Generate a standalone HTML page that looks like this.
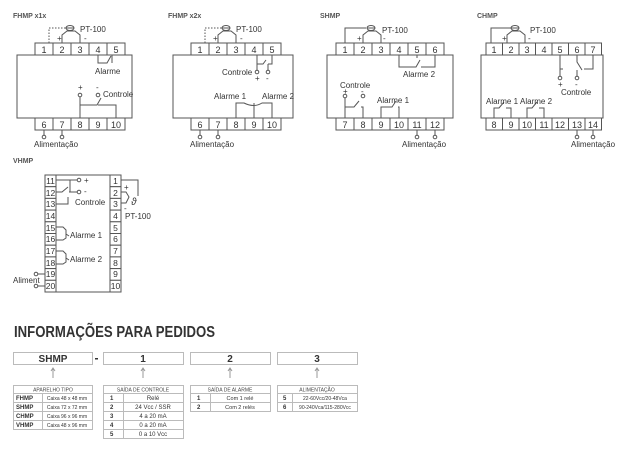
<!DOCTYPE html>
<html><head><meta charset="utf-8"><style>
html,body{margin:0;padding:0;background:#fff;width:640px;height:456px;overflow:hidden}
svg{display:block}
text{font-family:"Liberation Sans",sans-serif;fill:#333}
.s{fill:none;stroke:#555;stroke-width:1}
.c{fill:#fff;stroke:#555;stroke-width:1}
.t{font-size:8px}
.n{font-size:9px;text-anchor:middle}
.h{font-size:7px;font-weight:bold;fill:#555}
.b{fill:#fff;stroke:#bbb;stroke-width:1}
.tb{font-size:5px;text-anchor:middle;fill:#444}
.tk{font-size:6px;font-weight:bold;fill:#333}
</style></head><body>
<svg width="640" height="456" viewBox="0 0 640 456" xmlns="http://www.w3.org/2000/svg">
<!-- ===== FHMP x1x ===== -->
<text x="13" y="18" class="h">FHMP x1x</text>
<rect x="17" y="55" width="115" height="63" class="s"/>
<g class="c"><rect x="35" y="43" width="18" height="12"/><rect x="53" y="43" width="18" height="12"/><rect x="71" y="43" width="18" height="12"/><rect x="89" y="43" width="18" height="12"/><rect x="107" y="43" width="18" height="12"/>
<rect x="35" y="118" width="18" height="12"/><rect x="53" y="118" width="18" height="12"/><rect x="71" y="118" width="18" height="12"/><rect x="89" y="118" width="18" height="12"/><rect x="107" y="118" width="18" height="12"/></g>
<g class="n"><text x="44" y="53">1</text><text x="62" y="53">2</text><text x="80" y="53">3</text><text x="98" y="53">4</text><text x="116" y="53">5</text>
<text x="44" y="128">6</text><text x="62" y="128">7</text><text x="80" y="128">8</text><text x="98" y="128">9</text><text x="116" y="128">10</text></g>
<path d="M49 43V28H66" class="s" stroke-dasharray="1.5 1.5"/>
<path d="M62 43V35L67 31H75L80 35V43M66 28H74" class="s"/>
<ellipse cx="70" cy="28" rx="4" ry="2.5" class="s"/>
<text x="80" y="32" class="t">PT-100</text><text x="57" y="41" class="t">+</text><text x="84" y="41" class="t">-</text>
<path d="M98 55V63H107L111 56M112 63V55" class="s"/>
<text x="95" y="74" class="t">Alarme</text>
<path d="M80 118V105H97L101 98M98 105H116V118M80 97V105M98 97" class="s"/>
<circle cx="80" cy="95" r="1.8" class="c"/><circle cx="98" cy="95" r="1.8" class="c"/>
<text x="78" y="90" class="t">+</text><text x="96" y="90" class="t">-</text><text x="103" y="97" class="t">Controle</text>
<path d="M44 130V135M62 130V135" class="s"/><circle cx="44" cy="137" r="1.8" class="c"/><circle cx="62" cy="137" r="1.8" class="c"/>
<text x="34" y="147" class="t">Alimentação</text>

<!-- ===== FHMP x2x ===== -->
<text x="168" y="18" class="h">FHMP x2x</text>
<rect x="173" y="55" width="120" height="63" class="s"/>
<g class="c"><rect x="191" y="43" width="18" height="12"/><rect x="209" y="43" width="18" height="12"/><rect x="227" y="43" width="18" height="12"/><rect x="245" y="43" width="18" height="12"/><rect x="263" y="43" width="18" height="12"/>
<rect x="191" y="118" width="18" height="12"/><rect x="209" y="118" width="18" height="12"/><rect x="227" y="118" width="18" height="12"/><rect x="245" y="118" width="18" height="12"/><rect x="263" y="118" width="18" height="12"/></g>
<g class="n"><text x="200" y="53">1</text><text x="218" y="53">2</text><text x="236" y="53">3</text><text x="254" y="53">4</text><text x="272" y="53">5</text>
<text x="200" y="128">6</text><text x="218" y="128">7</text><text x="236" y="128">8</text><text x="254" y="128">9</text><text x="272" y="128">10</text></g>
<path d="M205 43V28H222" class="s" stroke-dasharray="1.5 1.5"/>
<path d="M218 43V35L223 31H231L236 35V43M222 28H230" class="s"/>
<ellipse cx="226" cy="28" rx="4" ry="2.5" class="s"/>
<text x="236" y="32" class="t">PT-100</text><text x="213" y="41" class="t">+</text><text x="240" y="41" class="t">-</text>
<path d="M257 55V64H263L266 60M268 64H272V55M257 64V70M268 64V70" class="s"/>
<circle cx="257" cy="72" r="1.8" class="c"/><circle cx="268" cy="72" r="1.8" class="c"/>
<text x="222" y="75" class="t">Controle</text><text x="255" y="81" class="t">+</text><text x="266" y="81" class="t">-</text>
<path d="M236 118V103H244Q254 108 262 103H272V118M254 118V103" class="s"/>
<text x="214" y="99" class="t">Alarme 1</text><text x="262" y="99" class="t">Alarme 2</text>
<path d="M200 130V135M218 130V135" class="s"/><circle cx="200" cy="137" r="1.8" class="c"/><circle cx="218" cy="137" r="1.8" class="c"/>
<text x="190" y="147" class="t">Alimentação</text>

<!-- ===== SHMP ===== -->
<text x="320" y="18" class="h">SHMP</text>
<rect x="327" y="55" width="126" height="63" class="s"/>
<g class="c"><rect x="336" y="43" width="18" height="12"/><rect x="354" y="43" width="18" height="12"/><rect x="372" y="43" width="18" height="12"/><rect x="390" y="43" width="18" height="12"/><rect x="408" y="43" width="18" height="12"/><rect x="426" y="43" width="18" height="12"/>
<rect x="336" y="118" width="18" height="12"/><rect x="354" y="118" width="18" height="12"/><rect x="372" y="118" width="18" height="12"/><rect x="390" y="118" width="18" height="12"/><rect x="408" y="118" width="18" height="12"/><rect x="426" y="118" width="18" height="12"/></g>
<g class="n"><text x="345" y="53">1</text><text x="363" y="53">2</text><text x="381" y="53">3</text><text x="399" y="53">4</text><text x="417" y="53">5</text><text x="435" y="53">6</text>
<text x="345" y="128">7</text><text x="363" y="128">8</text><text x="381" y="128">9</text><text x="399" y="128">10</text><text x="417" y="128">11</text><text x="435" y="128">12</text></g>
<path d="M345 43V28H366" class="s"/>
<path d="M363 43V35L368 31H376L381 35V43M367 28H375" class="s"/>
<ellipse cx="371" cy="28" rx="4" ry="2.5" class="s"/>
<text x="382" y="33" class="t">PT-100</text><text x="357" y="41" class="t">+</text><text x="383" y="41" class="t">-</text>
<path d="M399 55V67H416L420 60M421 67H435V55M417 55V58" class="s"/>
<text x="403" y="77" class="t">Alarme 2</text>
<path d="M345 118V107H354L359 101M361 107H363V118M345 98V107M363 98" class="s"/>
<circle cx="345" cy="96" r="1.8" class="c"/><circle cx="363" cy="96" r="1.8" class="c"/>
<text x="340" y="88" class="t">Controle</text><text x="343" y="94" class="t">+</text><text x="361" y="94" class="t">-</text>
<path d="M381 118V107H392L396 101M398 107H399V118" class="s"/>
<text x="377" y="103" class="t">Alarme 1</text>
<path d="M417 130V135M435 130V135" class="s"/><circle cx="417" cy="137" r="1.8" class="c"/><circle cx="435" cy="137" r="1.8" class="c"/>
<text x="402" y="147" class="t">Alimentação</text>

<!-- ===== CHMP ===== -->
<text x="477" y="18" class="h">CHMP</text>
<rect x="481" y="55" width="122" height="63" class="s"/>
<g class="c"><rect x="486" y="43" width="16.5" height="12"/><rect x="502.5" y="43" width="16.5" height="12"/><rect x="519" y="43" width="16.5" height="12"/><rect x="535.5" y="43" width="16.5" height="12"/><rect x="552" y="43" width="16.5" height="12"/><rect x="568.5" y="43" width="16.5" height="12"/><rect x="585" y="43" width="16.5" height="12"/>
<rect x="486" y="118" width="16.5" height="12"/><rect x="502.5" y="118" width="16.5" height="12"/><rect x="519" y="118" width="16.5" height="12"/><rect x="535.5" y="118" width="16.5" height="12"/><rect x="552" y="118" width="16.5" height="12"/><rect x="568.5" y="118" width="16.5" height="12"/><rect x="585" y="118" width="16.5" height="12"/></g>
<g class="n"><text x="494" y="53">1</text><text x="511" y="53">2</text><text x="527" y="53">3</text><text x="544" y="53">4</text><text x="560" y="53">5</text><text x="577" y="53">6</text><text x="593" y="53">7</text>
<text x="494" y="128">8</text><text x="511" y="128">9</text><text x="527" y="128">10</text><text x="544" y="128">11</text><text x="560" y="128">12</text><text x="577" y="128">13</text><text x="593" y="128">14</text></g>
<path d="M491 43V28H514" class="s"/>
<path d="M507 43V35L512 31H520L525 35V43M511 28H519" class="s"/>
<ellipse cx="515" cy="28" rx="4" ry="2.5" class="s"/>
<text x="530" y="33" class="t">PT-100</text><text x="502" y="41" class="t">+</text><text x="528" y="41" class="t">-</text>
<path d="M560 55V69H563M560 69V76M577 55V62L582 70M584 69H593V55M577 70V76" class="s"/>
<circle cx="560" cy="78" r="1.8" class="c"/><circle cx="577" cy="78" r="1.8" class="c"/>
<text x="558" y="87" class="t">+</text><text x="575" y="87" class="t">-</text><text x="561" y="95" class="t">Controle</text>
<path d="M494 118V108H499L504 102M506 108H511V118" class="s"/>
<path d="M527 118V108H532L537 102M539 108H544V118" class="s"/>
<text x="486" y="104" class="t">Alarme 1</text><text x="520" y="104" class="t">Alarme 2</text>
<path d="M577 130V135M593 130V135" class="s"/><circle cx="577" cy="137" r="1.8" class="c"/><circle cx="593" cy="137" r="1.8" class="c"/>
<text x="571" y="147" class="t">Alimentação</text>

<!-- ===== VHMP ===== -->
<text x="13" y="163" class="h">VHMP</text>
<path d="M56 175H110M56 292H110" class="s"/>
<g class="c">
<rect x="45" y="175" width="11" height="11.7"/><rect x="45" y="186.7" width="11" height="11.7"/><rect x="45" y="198.4" width="11" height="11.7"/><rect x="45" y="210.1" width="11" height="11.7"/><rect x="45" y="221.8" width="11" height="11.7"/><rect x="45" y="233.5" width="11" height="11.7"/><rect x="45" y="245.2" width="11" height="11.7"/><rect x="45" y="256.9" width="11" height="11.7"/><rect x="45" y="268.6" width="11" height="11.7"/><rect x="45" y="280.3" width="11" height="11.7"/>
<rect x="110" y="175" width="11" height="11.7"/><rect x="110" y="186.7" width="11" height="11.7"/><rect x="110" y="198.4" width="11" height="11.7"/><rect x="110" y="210.1" width="11" height="11.7"/><rect x="110" y="221.8" width="11" height="11.7"/><rect x="110" y="233.5" width="11" height="11.7"/><rect x="110" y="245.2" width="11" height="11.7"/><rect x="110" y="256.9" width="11" height="11.7"/><rect x="110" y="268.6" width="11" height="11.7"/><rect x="110" y="280.3" width="11" height="11.7"/></g>
<g class="n" style="font-size:8.5px">
<text x="50.5" y="184">11</text><text x="50.5" y="196">12</text><text x="50.5" y="207">13</text><text x="50.5" y="219">14</text><text x="50.5" y="231">15</text><text x="50.5" y="242">16</text><text x="50.5" y="254">17</text><text x="50.5" y="266">18</text><text x="50.5" y="277">19</text><text x="50.5" y="289">20</text>
<text x="115.5" y="184">1</text><text x="115.5" y="196">2</text><text x="115.5" y="207">3</text><text x="115.5" y="219">4</text><text x="115.5" y="231">5</text><text x="115.5" y="242">6</text><text x="115.5" y="254">7</text><text x="115.5" y="266">8</text><text x="115.5" y="277">9</text><text x="115.5" y="289">10</text></g>
<path d="M56 180H77M70 180V192M56 192H62L68 187M69 192H77M56 204H68V197" class="s"/>
<circle cx="79" cy="180" r="1.8" class="c"/><circle cx="79" cy="192" r="1.8" class="c"/>
<text x="84" y="183" class="t">+</text><text x="84" y="194" class="t">-</text><text x="75" y="205" class="t">Controle</text>
<path d="M56 227H63L66 230V238L63 240H56M66 234L69 236" class="s"/>
<text x="70" y="238" class="t">Alarme 1</text>
<path d="M56 251H63L66 254V262L63 264H56M66 258L69 260" class="s"/>
<text x="70" y="262" class="t">Alarme 2</text>
<path d="M121 180H138V196M121 192H126L129 197L126 203H121" class="s"/>
<text x="124" y="190" class="t">+</text><text x="124" y="211" class="t">-</text>
<text x="131" y="205" class="t" style="font-style:italic;font-size:10px">ϑ</text>
<text x="125" y="219" class="t">PT-100</text>
<path d="M45 274H38M45 286H38" class="s"/><circle cx="36" cy="274" r="1.8" class="c"/><circle cx="36" cy="286" r="1.8" class="c"/>
<text x="13" y="283" class="t">Aliment</text>

<!-- ===== ORDERING ===== -->
<text x="14" y="337" style="font-size:16px;font-weight:bold;fill:#333" textLength="201" lengthAdjust="spacingAndGlyphs">INFORMAÇÕES PARA PEDIDOS</text>
<rect x="13.5" y="352.5" width="79" height="12" class="b"/><rect x="103.5" y="352.5" width="80" height="12" class="b"/><rect x="190.5" y="352.5" width="80" height="12" class="b"/><rect x="277.5" y="352.5" width="80" height="12" class="b"/>
<g style="font-size:10px;font-weight:bold;text-anchor:middle">
<text x="53" y="362">SHMP</text><text x="143" y="362">1</text><text x="230" y="362">2</text><text x="317" y="362">3</text></g>
<rect x="95" y="358" width="3" height="1.5" fill="#333"/>
<g class="s" style="stroke:#999"><path d="M53 378V369M51 371L53 368L55 371M143 378V369M141 371L143 368L145 371M230 378V369M228 371L230 368L232 371M317 378V369M315 371L317 368L319 371"/></g>
<!-- tipo table -->
<g class="b"><rect x="13.5" y="385.5" width="79" height="8"/><rect x="13.5" y="393.5" width="79" height="36"/></g>
<path d="M13.5 402.5H92.5M13.5 411.5H92.5M13.5 420.5H92.5M42.5 393.5V429.5" stroke="#bbb" fill="none"/>
<text x="53" y="391.5" class="tb">APARELHO TIPO</text>
<g class="tk"><text x="16" y="400">FHMP</text><text x="16" y="409">SHMP</text><text x="16" y="418">CHMP</text><text x="16" y="427">VHMP</text></g>
<g class="tb"><text x="67" y="400">Caixa 48 x 48 mm</text><text x="67" y="409">Caixa 72 x 72 mm</text><text x="67" y="418">Caixa 96 x 96 mm</text><text x="67" y="427">Caixa 48 x 96 mm</text></g>
<!-- controle -->
<g class="b"><rect x="103.5" y="385.5" width="80" height="8"/><rect x="103.5" y="393.5" width="80" height="45"/></g>
<path d="M103.5 402.5H183.5M103.5 411.5H183.5M103.5 420.5H183.5M103.5 429.5H183.5M123.5 393.5V438.5" stroke="#bbb" fill="none"/>
<text x="143" y="391.5" class="tb">SAÍDA DE CONTROLE</text>
<g class="tk"><text x="110" y="400">1</text><text x="110" y="409">2</text><text x="110" y="418">3</text><text x="110" y="427">4</text><text x="110" y="436">5</text></g>
<g class="tb" style="font-size:6px"><text x="153" y="400">Relé</text><text x="153" y="409">24 Vcc / SSR</text><text x="153" y="418">4 a 20 mA</text><text x="153" y="427">0 a 20 mA</text><text x="153" y="436">0 a 10 Vcc</text></g>
<!-- alarme -->
<g class="b"><rect x="190.5" y="385.5" width="80" height="8"/><rect x="190.5" y="393.5" width="80" height="18"/></g>
<path d="M190.5 402.5H270.5M210.5 393.5V411.5" stroke="#bbb" fill="none"/>
<text x="230" y="391.5" class="tb">SAÍDA DE ALARME</text>
<g class="tk"><text x="197" y="400">1</text><text x="197" y="409">2</text></g>
<g class="tb" style="font-size:5.5px"><text x="240" y="400">Com 1 relé</text><text x="240" y="409">Com 2 relés</text></g>
<!-- alimentacao -->
<g class="b"><rect x="277.5" y="385.5" width="80" height="8"/><rect x="277.5" y="393.5" width="80" height="18"/></g>
<path d="M277.5 402.5H357.5M292.5 393.5V411.5" stroke="#bbb" fill="none"/>
<text x="317" y="391.5" class="tb">ALIMENTAÇÃO</text>
<g class="tk"><text x="283" y="400">5</text><text x="283" y="409">6</text></g>
<g class="tb" style="font-size:5px"><text x="325" y="400">22-60Vcc/20-48Vca</text><text x="325" y="409">90-240Vca/115-280Vcc</text></g>
</svg>
</body></html>
